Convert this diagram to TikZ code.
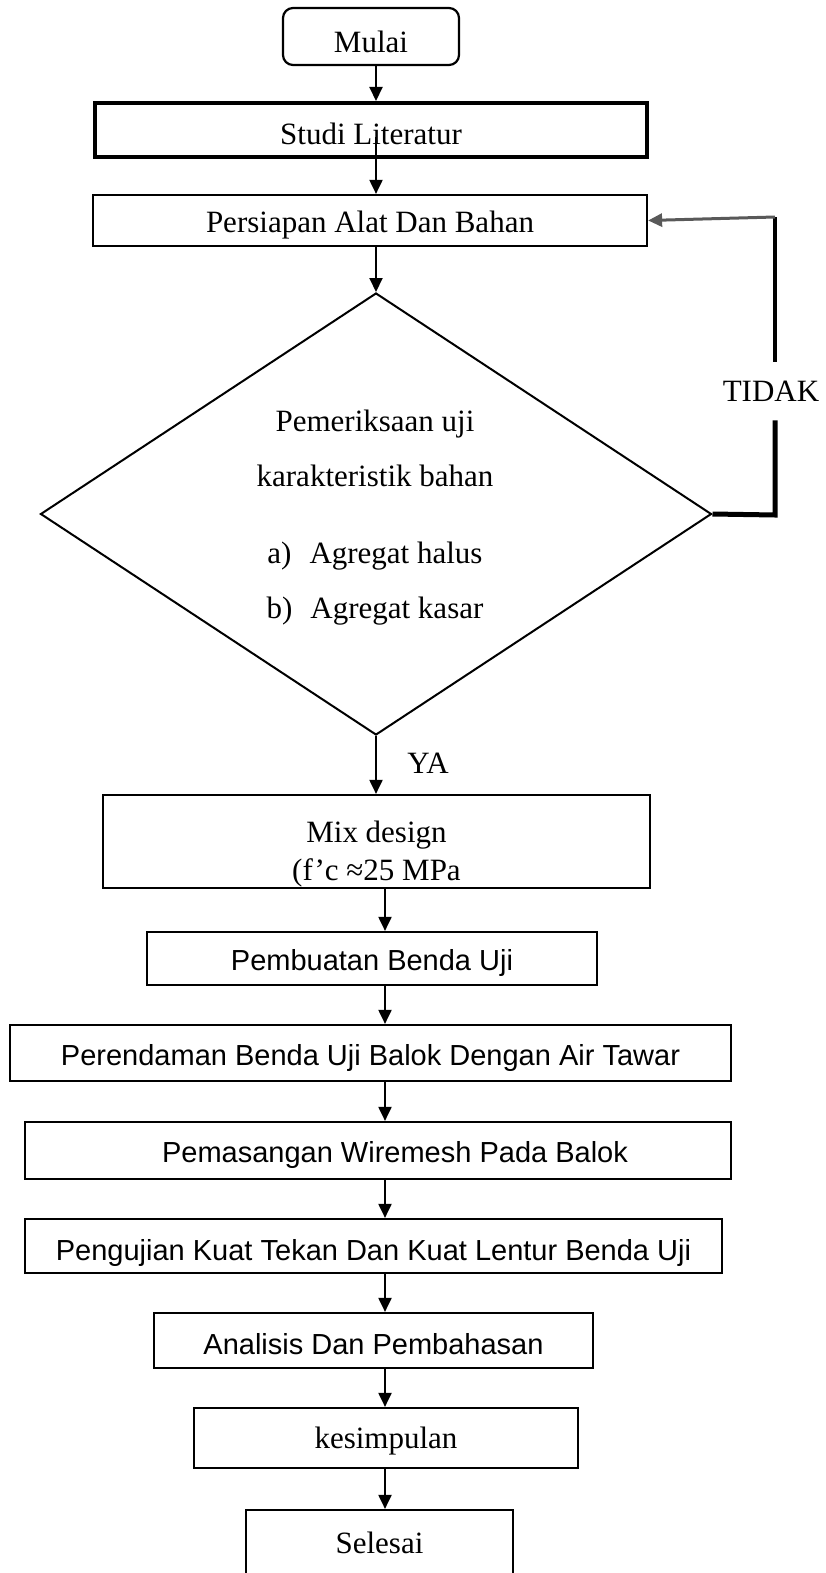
\documentclass[tikz,border=0pt]{standalone}
\usepackage{fontspec}
\setmainfont{Liberation Serif}
\newfontfamily\arialfont{Liberation Sans}
\usetikzlibrary{shapes.geometric,arrows.meta}

\begin{document}
\begin{tikzpicture}[x=1pt,y=-1pt,
		kotak/.style={draw,line width=2.2pt,inner sep=0pt,text height=26pt,text depth=2pt,font=\fontsize{31}{36}\selectfont},
		kotaksans/.style={kotak,font=\arialfont\fontsize{29}{34}\selectfont},
		teks/.style={inner sep=0pt,font=\fontsize{31}{36}\selectfont},
		panah/.style={line width=2pt,-{Triangle[length=14pt,width=13pt]}}]
	\useasboundingbox (0,0) rectangle (826,1573);
	\coordinate (a) at (376,0);
	\coordinate (b) at (385,0);
	\coordinate (c1) at (775,217);
	\coordinate (c2) at (775,515);
	\node[kotak,rounded corners=10pt,text height=32pt,text depth=0pt,minimum width=176pt,minimum height=57pt] (1) at (371,36.5) {Mulai};
	\node[kotak,line width=4pt,text height=30pt,text depth=0pt,minimum width=552pt,minimum height=54pt] (2) at (371,130) {Studi Literatur};
	\node[kotak,minimum width=554pt,minimum height=51pt] (3) at (370,220.5) {Persiapan Alat Dan Bahan};
	\node[draw,diamond,line width=2pt,inner sep=0pt,minimum width=671pt,minimum height=442pt] (4) at (376,514) {};
	\node[teks,align=center,font=\fontsize{31}{55}\selectfont] (5) at (375,518) {Pemeriksaan uji\\karakteristik bahan\\[22pt]a)\hspace{18pt}Agregat halus\\b)\hspace{18pt}Agregat kasar};
	\node[kotak,align=center,text height=78pt,text depth=0pt,font=\fontsize{31}{38}\selectfont,minimum width=547pt,minimum height=93pt] (6) at (376.5,841.5) {Mix design\\(f’c ≈25 MPa};
	\node[kotaksans,minimum width=450pt,minimum height=53pt] (7) at (372,958.5) {Pembuatan Benda Uji};
	\node[kotaksans,minimum width=721pt,minimum height=56pt] (8) at (370.5,1053) {Perendaman Benda Uji Balok Dengan Air Tawar};
	\node[kotaksans,minimum width=706pt,minimum height=57pt] (9) at (378,1150.5) {\hspace*{34pt}Pemasangan Wiremesh Pada Balok};
	\node[kotaksans,text height=28pt,text depth=0pt,minimum width=697pt,minimum height=54pt] (10) at (373.5,1246) {Pengujian Kuat Tekan Dan Kuat Lentur Benda Uji};
	\node[kotaksans,text height=28pt,text depth=0pt,minimum width=439pt,minimum height=55pt] (11) at (373.5,1340.5) {Analisis Dan Pembahasan};
	\node[kotak,text height=22pt,minimum width=384pt,minimum height=60pt] (12) at (386,1438) {kesimpulan};
	\node[kotak,text height=18pt,minimum width=267pt,minimum height=70pt] (13) at (379.5,1545) {Selesai};
	\node[teks] (14) at (428,763) {YA};
	\node[teks,inner ysep=19pt] (15) at (771,391) {TIDAK};
	\coordinate (2s) at ([yshift=-7pt]2.center);
	\draw[panah] (1.south -| a) -- (2.north -| a);
	\draw[panah] (2s -| a) -- (3.north -| a);
	\draw[panah] (3.south -| a) -- (4.north);
	\draw[panah] (4.south) -- (6.north -| a);
	\draw[panah] (6.south -| b) -- (7.north -| b);
	\draw[panah] (7.south -| b) -- (8.north -| b);
	\draw[panah] (8.south -| b) -- (9.north -| b);
	\draw[panah] (9.south -| b) -- (10.north -| b);
	\draw[panah] (10.south -| b) -- (11.north -| b);
	\draw[panah] (11.south -| b) -- (12.north -| b);
	\draw[panah] (12.south -| b) -- (13.north -| b);
	\draw[line width=5pt] (4.east) -- (c2) -- (c2 |- 15.south);
	\draw[line width=4pt] (c2 |- 15.north) -- (c1);
	\draw[panah,line width=3pt,black!65] (c1) -- (3.east);
\end{tikzpicture}
\end{document}
